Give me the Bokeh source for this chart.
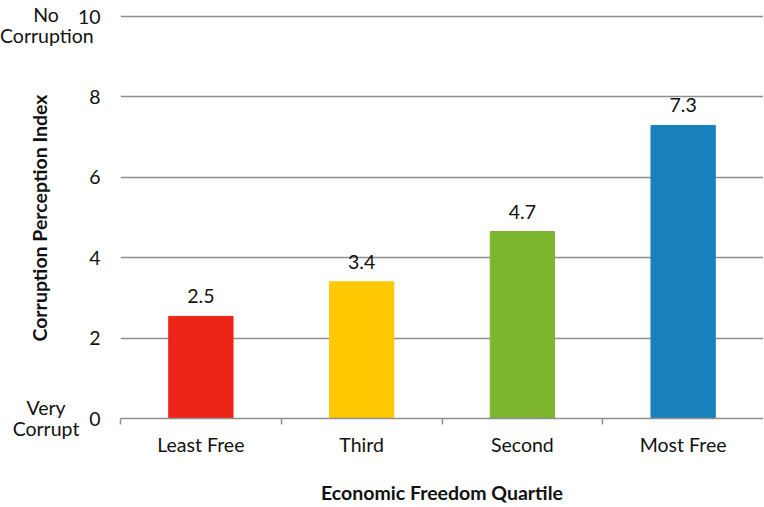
from bokeh.plotting import figure
from bokeh.layouts import row
from bokeh.models import (FactorRange, Range1d, FixedTicker, LinearAxis, CategoricalAxis,
                          ColumnDataSource, Grid, Div)
from bokeh.core.properties import value
from bokeh.embed import file_html
from bokeh.resources import INLINE

categories = ["Least Free", "Third", "Second", "Most Free"]
cpi_values = [2.54, 3.40, 4.65, 7.29]
value_labels = ["2.5", "3.4", "4.7", "7.3"]
bar_colors = ["#EE2418", "#FFC800", "#7DB52C", "#1880BD"]
y_ticks = [0, 2, 4, 6, 8, 10]
boundary_ticks = [0, 1, 2, 3]
top_note = ["No", "Corruption"]
bottom_note = ["Very", "Corrupt"]
y_title = "Corruption Perception Index"
x_title = "Economic Freedom Quartile"

FONT = "Lato"
FS = "19.5px"
TXT = "#111111"
GRID = "#8f8f8f"

LEFT_W = 74      # rendered width of the left margin panel
DIV_PAD = 5      # padding the Div adds around its content
TOP, BOTTOM = 14, 89

src = ColumnDataSource(dict(cat=categories, v=cpi_values, lab=value_labels, col=bar_colors))

# ---------------- main chart ----------------
p = figure(width=764 - LEFT_W, height=507, x_range=FactorRange(*categories, range_padding=0),
           y_range=Range1d(0, 10.05), x_axis_type=None, y_axis_type=None,
           output_backend="svg", toolbar_location=None,
           min_border_left=121 - LEFT_W, min_border_right=0,
           min_border_top=TOP, min_border_bottom=BOTTOM)
p.outline_line_color = None
p.background_fill_color = "white"
p.border_fill_color = None

yax = LinearAxis(ticker=FixedTicker(ticks=y_ticks))
yax.axis_line_color = None
yax.major_tick_out = 0
yax.major_tick_in = 0
yax.minor_tick_out = 0
yax.minor_tick_in = 0
yax.major_label_standoff = 20
yax.major_label_text_font = FONT
yax.major_label_text_font_size = FS
yax.major_label_text_color = TXT
p.add_layout(yax, "left")

# boundary tick marks between categories (synthetic coordinates of the factor range)
tax = LinearAxis(ticker=FixedTicker(ticks=boundary_ticks))
tax.axis_line_color = GRID
tax.axis_line_width = 1.5
tax.major_tick_line_color = GRID
tax.major_tick_line_width = 1.5
tax.major_tick_out = 6
tax.major_tick_in = 0
tax.minor_tick_out = 0
tax.minor_tick_in = 0
tax.major_label_overrides = {t: "" for t in boundary_ticks}
tax.major_label_text_font_size = "1px"
tax.major_label_standoff = 0
p.add_layout(tax, "below")

cax = CategoricalAxis()
cax.axis_line_color = None
cax.major_tick_out = 0
cax.major_tick_in = 0
cax.major_label_standoff = 8
cax.major_label_text_font = FONT
cax.major_label_text_font_size = FS
cax.major_label_text_color = TXT
cax.axis_label = x_title
cax.axis_label_text_font = FONT
cax.axis_label_text_font_style = "bold"
cax.axis_label_text_font_size = FS
cax.axis_label_text_color = TXT
cax.axis_label_standoff = 22
p.add_layout(cax, "below")

p.add_layout(Grid(dimension=1, ticker=FixedTicker(ticks=y_ticks),
                  grid_line_color=GRID, grid_line_width=1.5))

p.vbar(x="cat", top="v", width=0.4, color="col", source=src)
p.text(x="cat", y="v", text="lab", source=src, y_offset=-20,
       text_align="center", text_baseline="middle",
       text_font=value(FONT), text_font_size=FS, text_color=TXT)

# ---------------- left margin: scale notes and y-axis title ----------------
base = f"position:absolute;font-family:{FONT};font-size:{FS};color:{TXT};white-space:nowrap;"
note_box = base + f"left:{-DIV_PAD}px;width:92px;text-align:center;line-height:21px;"
html = (
    f'<div style="position:relative;width:{LEFT_W - 2 * DIV_PAD}px;'
    f'height:{507 - 2 * DIV_PAD}px;overflow:visible;">'
    f'<div style="{note_box}top:{3.5 - DIV_PAD}px;">{top_note[0]}<br>{top_note[1]}</div>'
    f'<div style="{note_box}top:{396.5 - DIV_PAD}px;">{bottom_note[0]}<br>{bottom_note[1]}</div>'
    f'<div style="{base}left:{40 - DIV_PAD}px;top:{218 - DIV_PAD}px;font-weight:bold;'
    f'transform:translate(-50%,-50%) rotate(-90deg);">{y_title}</div>'
    '</div>'
)
left = Div(text=html, width=LEFT_W - 2 * DIV_PAD - 1, height=507 - 2 * DIV_PAD,
           styles={"overflow": "visible"})

layout = row(left, p, spacing=0)
open("out.html", "w").write(file_html(layout, INLINE))
